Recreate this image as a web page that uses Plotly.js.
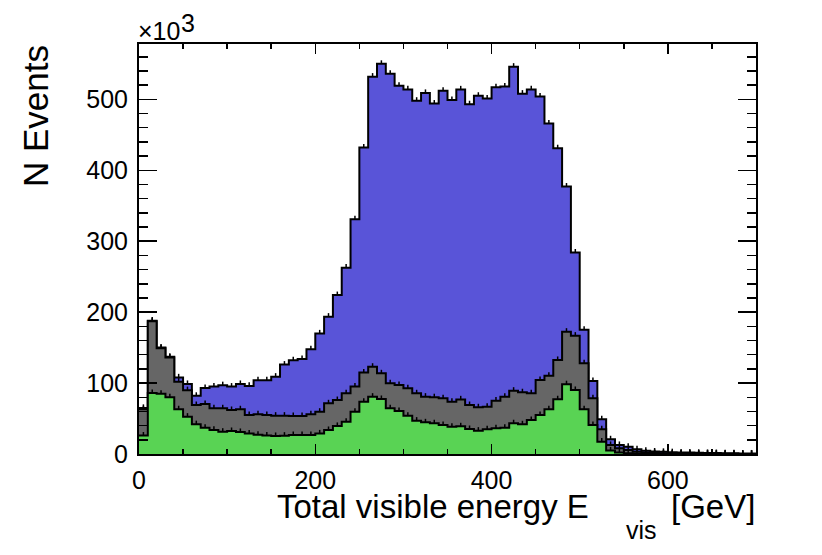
<!DOCTYPE html>
<html>
<head>
<meta charset="utf-8">
<script src="https://cdn.plot.ly/plotly-3.0.1.min.js"></script>
<style>
html,body{margin:0;padding:0;background:#fff;}
#chart{width:822px;height:555px;}
</style>
</head>
<body>
<div id="chart"></div>
<script>
// Histogram binning: 70 bins of 10 GeV from 0 to 700
const binStart = 0;
const binWidth = 10;
const nBins = 70;

// Values in units of 10^3 events, per bin (component contributions, bottom to top of the stack)
const greenValues = [26, 86, 85, 80, 63, 52.6, 42, 37, 34, 31.4,
  32.4, 31, 29, 27, 26, 25.4, 25.8, 26.8, 26.8, 26.8,
  29, 33.8, 39.5, 45.5, 59.6, 73.7, 80.8, 77.5, 64.4, 60.6,
  54, 47, 44.6, 43.3, 40.9, 38.5, 39, 35.2, 32.9, 34.8,
  36.2, 37.1, 43.3, 41.8, 47.9, 55, 63, 77.1, 98.3, 90.2,
  63, 40.9, 17.4, 5, 2, 1, 0.5, 0.3, 0.2, 0.1,
  0, 0, 0, 0, 0, 0, 0, 0, 0, 0];
const grayValues = [37, 101, 64, 56, 39, 37.4, 27, 33.5, 30.4, 33,
  29.6, 32, 26, 29, 29, 28.6, 28.2, 26.7, 26.8, 29.2,
  30.6, 37.6, 36.5, 40, 35.4, 41.3, 42.2, 36.2, 35.2, 36.7,
  38.6, 38.5, 36.2, 36.7, 37.6, 35.2, 38, 33.8, 32.9, 31.9,
  39, 43.7, 45.9, 45.2, 37.6, 49.3, 47.4, 55.4, 74.1, 76.6,
  64.8, 37.6, 17.6, 7.7, 6, 4.6, 2.5, 1.7, 1.3, 0.9,
  0.8, 0.6, 0.5, 0.4, 0.3, 0.3, 0.2, 0.2, 0.1, 0.1];
const blueValues = [2, 1, 1, 1, 6, 8.7, 13, 22.5, 30.6, 32.6,
  33, 35.7, 41, 48, 49, 55, 72, 78.5, 80.4, 91.5,
  110.4, 122.2, 148, 177.2, 236, 317, 409, 436.3, 436.4, 421.7,
  421.4, 412.5, 428.2, 414, 433.5, 425.3, 437, 424, 439.2, 434.3,
  441.8, 437.2, 456.8, 421, 428.5, 399.7, 355.6, 298.5, 204.6, 117.2,
  47.2, 24.5, 14, 8, 4.7, 4.7, 3.6, 2.6, 2, 2,
  1.7, 1.6, 1.5, 1.3, 1.2, 1, 0.9, 0.8, 0.7, 0.6];

const xTickVals = [0, 200, 400, 600];
const xTickText = ['0', '200', '400', '600'];
const yTickVals = [0, 100, 200, 300, 400, 500];
const yTickText = ['0', '100', '200', '300', '400', '500'];

// ---- build stacked step traces ----
const edges = [];
for (let i = 0; i <= nBins; i++) edges.push(binStart + i * binWidth);
const centers = [];
for (let i = 0; i < nBins; i++) centers.push(binStart + (i + 0.5) * binWidth);

const stackG = greenValues.slice();
const stackGr = greenValues.map((v, i) => v + grayValues[i]);
const stackB = stackGr.map((v, i) => v + blueValues[i]);

function stepTrace(vals, fill) {
  const y = vals.concat([vals[vals.length - 1]]);
  return {
    type: 'scatter', mode: 'lines', x: edges, y: y,
    line: {shape: 'hv', color: '#000', width: 2},
    fill: 'tozeroy', fillcolor: fill, hoverinfo: 'skip', showlegend: false
  };
}
function errTrace(vals) {
  return {
    type: 'scatter', mode: 'markers', x: centers, y: vals,
    marker: {size: 1, opacity: 0},
    error_y: {type: 'constant', value: 5, valueminus: 0, symmetric: false,
      color: '#000', thickness: 1.5, width: 0},
    hoverinfo: 'skip', showlegend: false
  };
}

const traces = [
  stepTrace(stackB, '#5954d8'),
  stepTrace(stackGr, '#666666'),
  stepTrace(stackG, '#59d354'),
  errTrace(stackB), errTrace(stackGr), errTrace(stackG)
];

const L = 139, R = 756, T = 44, B = 454;
const W = 822, H = 555;
const pw = R - L, ph = B - T;
const px = v => (v - L) / pw;
const py = v => (B - v) / ph;
const FONT = 'Liberation Sans, Arial, Helvetica, sans-serif';

const layout = {
  width: W, height: H,
  margin: {l: L, r: W - R, t: T, b: H - B, pad: 0},
  paper_bgcolor: '#fff', plot_bgcolor: '#fff',
  font: {family: FONT, color: '#000'},
  xaxis: {
    range: [0, 700], showgrid: false, zeroline: false,
    showline: true, linecolor: '#000', linewidth: 2, mirror: 'allticks',
    ticks: 'inside', ticklen: 10, tickwidth: 1.5, tickcolor: '#000',
    tickvals: xTickVals, ticktext: xTickText,
    tickfont: {size: 25, family: FONT, color: '#000'},
    ticklabelstandoff: 3,
    minor: {dtick: 50, ticks: 'inside', ticklen: 5, tickwidth: 1.5, tickcolor: '#000', showgrid: false}
  },
  yaxis: {
    range: [0, 578], showgrid: false, zeroline: false,
    showline: true, linecolor: '#000', linewidth: 2, mirror: 'allticks',
    ticks: 'inside', ticklen: 18, tickwidth: 1.5, tickcolor: '#000',
    tickvals: yTickVals, ticktext: yTickText,
    tickfont: {size: 25, family: FONT, color: '#000'},
    ticklabelstandoff: 4,
    minor: {dtick: 20, ticks: 'inside', ticklen: 9, tickwidth: 1.5, tickcolor: '#000', showgrid: false}
  },
  annotations: [
    {text: 'Total visible energy E', xref: 'paper', yref: 'paper', x: px(591), y: py(506),
      xanchor: 'right', yanchor: 'middle', showarrow: false, font: {size: 33, family: FONT, color: '#000'}},
    {text: 'vis', xref: 'paper', yref: 'paper', x: px(624), y: py(530),
      xanchor: 'left', yanchor: 'middle', showarrow: false, font: {size: 25, family: FONT, color: '#000'}},
    {text: '[GeV]', xref: 'paper', yref: 'paper', x: px(757), y: py(506),
      xanchor: 'right', yanchor: 'middle', showarrow: false, font: {size: 33, family: FONT, color: '#000'}},
    {text: 'N Events', xref: 'paper', yref: 'paper', x: px(35), y: py(43),
      xanchor: 'center', yanchor: 'top', textangle: -90, showarrow: false, font: {size: 35, family: FONT, color: '#000'}},
    {text: '\u00d710', xref: 'paper', yref: 'paper', x: px(136), y: py(31),
      xanchor: 'left', yanchor: 'middle', showarrow: false, font: {size: 25, family: FONT, color: '#000'}},
    {text: '3', xref: 'paper', yref: 'paper', x: px(179), y: py(23),
      xanchor: 'left', yanchor: 'middle', showarrow: false, font: {size: 25, family: FONT, color: '#000'}}
  ]
};

Plotly.newPlot('chart', traces, layout, {staticPlot: true, displayModeBar: false});
</script>
</body>
</html>
